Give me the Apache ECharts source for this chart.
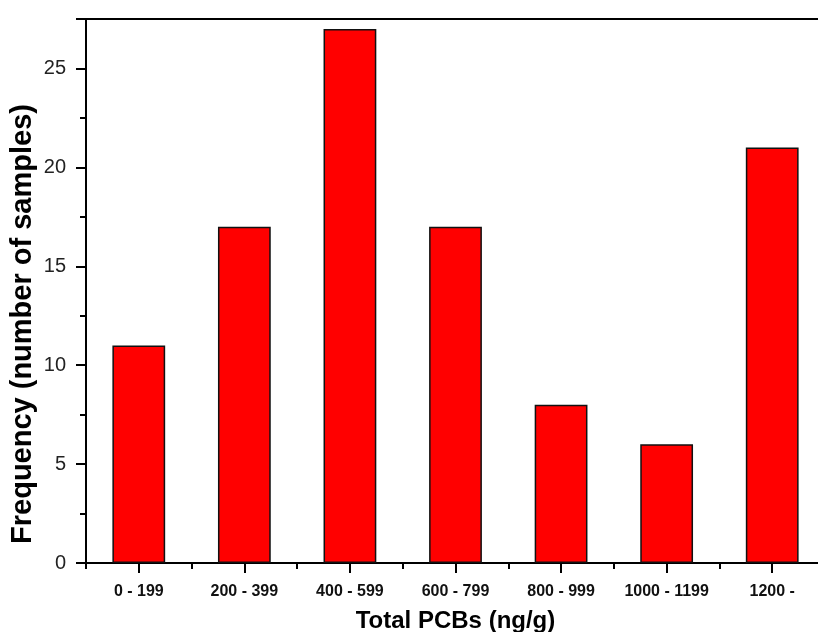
<!DOCTYPE html>
<html>
<head>
<meta charset="utf-8">
<script src="https://cdn.jsdelivr.net/npm/echarts@6/dist/echarts.min.js"></script>
<style>
html,body{margin:0;padding:0;background:#fff;}
#chart{width:818px;height:632px;}
</style>
</head>
<body>
<div id="chart"></div>
<script>
const categories = ['0 - 199', '200 - 399', '400 - 599', '600 - 799', '800 - 999', '1000 - 1199', '1200 -'];
const frequency = [11, 17, 27, 17, 8, 6, 21];
const yTickLabels = [0, 5, 10, 15, 20, 25];
const xTitle = 'Total PCBs (ng/g)';
const yTitle = 'Frequency (number of samples)';

const FONT = '"Liberation Sans", Arial, Helvetica, sans-serif';
const chart = echarts.init(document.getElementById('chart'), null, {renderer: 'canvas'});

chart.setOption({
  animation: false,
  backgroundColor: '#fff',
  grid: {left: 86, top: 19, bottom: 69, right: -7, show: false, containLabel: false, outerBoundsMode: 'none'},
  xAxis: [
    {
      type: 'category', data: categories, position: 'bottom',
      axisLine: {show: true, lineStyle: {color: '#000', width: 2}},
      axisTick: {show: true, alignWithLabel: true, interval: 0, length: 10, lineStyle: {color: '#000', width: 2}},
      axisLabel: {show: true, interval: 0, hideOverlap: false, margin: 21, color: '#111', fontFamily: FONT, fontWeight: 'bold', fontSize: 16},
      name: xTitle, nameLocation: 'middle', nameGap: 46,
      nameTextStyle: {color: '#000', fontFamily: FONT, fontWeight: 'bold', fontSize: 24},
      splitLine: {show: false}
    },
    {
      type: 'category', data: categories, position: 'bottom', offset: 0,
      axisLine: {show: false},
      axisTick: {show: true, alignWithLabel: false, interval: 0, length: 6, lineStyle: {color: '#000', width: 2}},
      axisLabel: {show: false, interval: 0},
      splitLine: {show: false}
    },
    {
      type: 'category', data: categories, position: 'top', offset: 0,
      axisLine: {show: true, lineStyle: {color: '#000', width: 2}},
      axisTick: {show: false},
      axisLabel: {show: false},
      splitLine: {show: false}
    }
  ],
  yAxis: [
    {
      type: 'value', min: 0, max: 27.5, interval: 5, position: 'left',
      axisLine: {show: true, lineStyle: {color: '#000', width: 2}},
      axisTick: {show: true, length: 10, lineStyle: {color: '#000', width: 2}},
      axisLabel: {show: true, margin: 20, color: '#222', fontFamily: FONT, fontSize: 20,
        formatter: v => (yTickLabels.indexOf(v) >= 0 ? String(v) : '')},
      splitLine: {show: false}
    },
    {
      type: 'value', min: 0, max: 27.5, interval: 2.5, position: 'left', offset: 0,
      axisLine: {show: false},
      axisTick: {show: true, length: 6, lineStyle: {color: '#000', width: 2}},
      axisLabel: {show: false},
      splitLine: {show: false}
    }
  ],
  graphic: [{
    type: 'text', x: 23, y: 324, rotation: Math.PI / 2,
    style: {text: yTitle, fill: '#000', font: 'bold 29px ' + FONT, align: 'center', verticalAlign: 'middle'}
  }],
  series: [{
    type: 'bar', data: frequency, xAxisIndex: 0, yAxisIndex: 0,
    barWidth: '50%',
    itemStyle: {color: '#ff0000', borderColor: '#111', borderWidth: 1.5}
  }]
});
</script>
</body>
</html>
